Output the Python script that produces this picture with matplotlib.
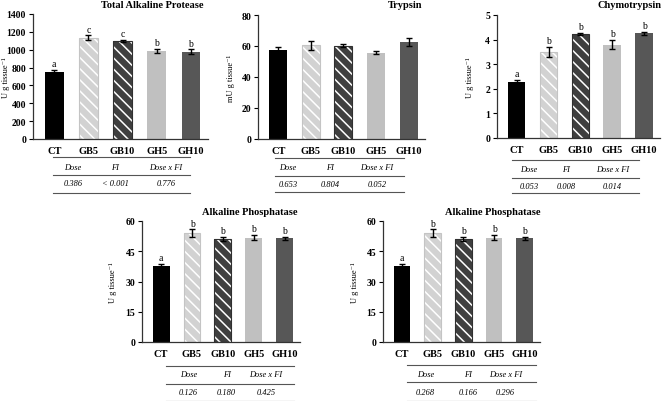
import matplotlib
matplotlib.use("Agg")
import matplotlib.pyplot as plt
from matplotlib.lines import Line2D

plt.rcParams['font.family'] = ['Liberation Serif', 'DejaVu Serif']
plt.rcParams['hatch.linewidth'] = 1.1

groups = ["CT", "GB5", "GB10", "GH5", "GH10"]
bar_colors = ["#000000", "#d2d2d2", "#3f3f3f", "#c0c0c0", "#575757"]
bar_edges = ["#000000", "#c4c4c4", "#303030", "#c0c0c0", "#575757"]
bar_hatch = [None, "\\\\\\", "\\\\\\", None, None]

# values
tap_mean = [752, 1135, 1100, 985, 975]
tap_err = [18, 25, 10, 25, 28]
tap_letters = ["a", "c", "c", "b", "b"]
tap_p = ["0.386", "< 0.001", "0.776"]

trypsin_mean = [57.5, 60.5, 60.3, 55.8, 62.7]
trypsin_err = [2.0, 3.0, 1.0, 0.8, 2.7]
trypsin_letters = ["", "", "", "", ""]
trypsin_p = ["0.653", "0.804", "0.052"]

chymo_mean = [2.27, 3.50, 4.22, 3.80, 4.25]
chymo_err = [0.08, 0.20, 0.05, 0.17, 0.07]
chymo_letters = ["a", "b", "b", "b", "b"]
chymo_p = ["0.053", "0.008", "0.014"]

alp_mean = [37.5, 54.0, 51.3, 51.8, 51.5]
alp_err = [1.2, 1.8, 1.0, 1.4, 0.7]
alp_letters = ["a", "b", "b", "b", "b"]
alp_p1 = ["0.126", "0.180", "0.425"]
alp_p2 = ["0.268", "0.166", "0.296"]

table_head = ["Dose", "FI", "Dose x FI"]

W, H = 669, 402
fig = plt.figure(figsize=(W / 100, H / 100), dpi=100)


def make_axes(x0, x1, ytop, yzero):
    return fig.add_axes([x0 / W, 1 - yzero / H, (x1 - x0) / W, (yzero - ytop) / H])


def draw_panel(ax, mean, err, letters, ymax, yticks, ylabel, pvals,
               col_x, line_x, line_off, text_off, ylab_px):
    xs = range(len(groups))
    for i in xs:
        if bar_hatch[i]:
            ax.bar(i, mean[i], width=0.55, color=bar_colors[i], edgecolor="white",
                   hatch=bar_hatch[i], linewidth=0)
            ax.bar(i, mean[i], width=0.55, fill=False, edgecolor=bar_edges[i], linewidth=0.8)
        else:
            ax.bar(i, mean[i], width=0.55, color=bar_colors[i], linewidth=0)
    ax.errorbar(list(xs), mean, yerr=err, fmt="none", ecolor="black",
                elinewidth=1.0, capsize=2.2, capthick=1.0)
    for i in xs:
        if letters[i]:
            ax.text(i, mean[i] + err[i] + ymax * 0.015, letters[i], ha="center",
                    va="bottom", fontsize=7)
    ax.set_xlim(-0.62, 4.5)
    ax.set_ylim(0, ymax)
    ax.set_yticks(yticks)
    ax.set_xticks(list(xs))
    ax.set_xticklabels(groups, fontweight="bold", fontsize=7.5)
    for lab in ax.get_yticklabels():
        lab.set_fontweight("bold")
        lab.set_fontsize(7)
    ax.tick_params(axis="x", length=0, pad=5)
    ax.tick_params(axis="y", length=3, width=0.8, pad=2)
    for s in ["top", "right"]:
        ax.spines[s].set_visible(False)
    for s in ["left", "bottom"]:
        ax.spines[s].set_linewidth(0.9)
        ax.spines[s].set_color("#333333")
    bbox = ax.get_position()
    hpx = bbox.height * H
    fig.text(ylab_px / W, bbox.y0 + bbox.height / 2, ylabel, rotation=90,
             ha="center", va="center", fontsize=6)
    # p-value table
    for off in line_off:
        ax.add_line(Line2D(line_x, [-off / hpx] * 2, color="#555555", lw=0.8,
                           transform=ax.get_xaxis_transform(), clip_on=False))
    for j in range(3):
        ax.text(col_x[j], -text_off[0] / hpx, table_head[j], ha="center", va="center",
                style="italic", fontsize=6, transform=ax.get_xaxis_transform())
        ax.text(col_x[j], -text_off[1] / hpx, pvals[j], ha="center", va="center",
                style="italic", fontsize=6, transform=ax.get_xaxis_transform())


ylab = "U g tissue\u207b\u00b9"

ax1 = make_axes(33, 208, 15, 140)
draw_panel(ax1, tap_mean, tap_err, tap_letters, 1400, range(0, 1401, 200), ylab, tap_p,
           [0.55, 1.78, 3.27], [-0.03, 3.97], [18, 36, 54], [28, 44], 6)

ax2 = make_axes(258, 425, 16, 140)
draw_panel(ax2, trypsin_mean, trypsin_err, trypsin_letters, 80, range(0, 81, 20),
           "mU g tissue\u207b\u00b9", trypsin_p,
           [0.3, 1.6, 3.03], [-0.1, 3.85], [19, 37, 53], [28, 45], 231)

ax3 = make_axes(497, 660, 16, 139)
draw_panel(ax3, chymo_mean, chymo_err, chymo_letters, 5, range(0, 6), ylab, chymo_p,
           [0.39, 1.54, 3.0], [-0.15, 3.85], [22, 40, 55], [31, 48], 470)

ax4 = make_axes(142, 300, 222, 343)
draw_panel(ax4, alp_mean, alp_err, alp_letters, 60, range(0, 61, 15), ylab, alp_p1,
           [0.88, 2.12, 3.4], [0.15, 4.3], [24, 42, 58.5], [32, 50], 113)

ax5 = make_axes(383, 540, 222, 343)
draw_panel(ax5, alp_mean, alp_err, alp_letters, 60, range(0, 61, 15), ylab, alp_p2,
           [0.77, 2.15, 3.38], [0.15, 4.37], [23, 40, 58.5], [32, 50], 355)

titles = [("Total Alkaline Protease", 152, 6), ("Trypsin", 405, 6),
          ("Chymotrypsin", 630, 6), ("Alkaline Phosphatase", 250, 213),
          ("Alkaline Phosphatase", 493, 213)]
for t, x, y in titles:
    fig.text(x / W, 1 - y / H, t, ha="center", va="center", fontweight="bold", fontsize=7.5)

fig.savefig("out.png", dpi=100)
